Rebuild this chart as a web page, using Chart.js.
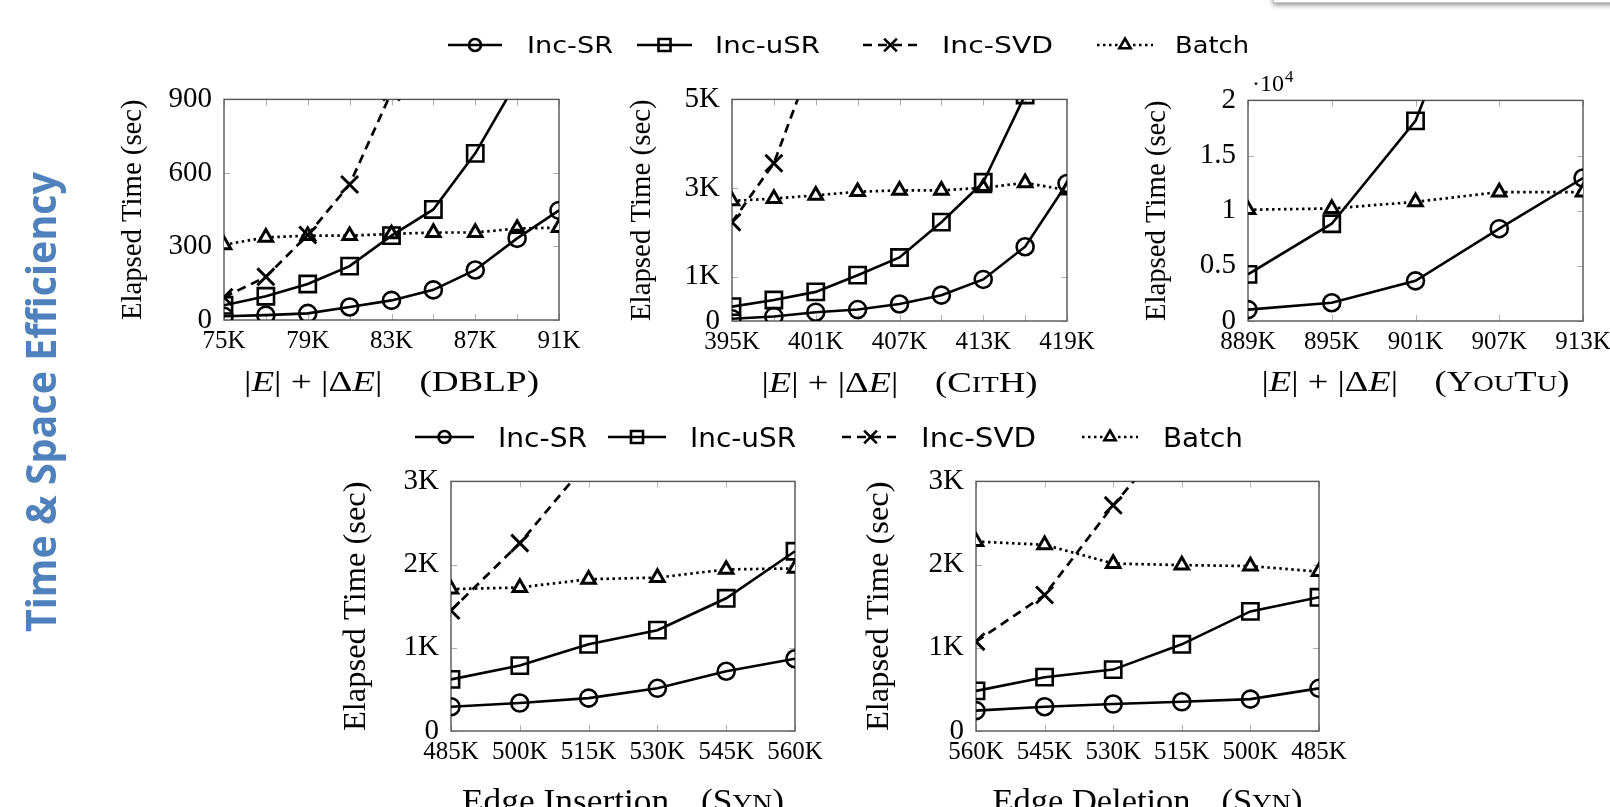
<!DOCTYPE html>
<html>
<head>
<meta charset="utf-8">
<script src="https://cdn.jsdelivr.net/npm/chart.js@4.4.1/dist/chart.umd.min.js"></script>
<style>
html, body { margin: 0; padding: 0; background: #fff; width: 1610px; height: 807px; overflow: hidden; position: relative; }
canvas { position: absolute; }
#topbox { position: absolute; left: 1273px; top: -40px; width: 400px; height: 41px; background: #fff;
          border: 1px solid #c8c8c8; box-shadow: 0 2px 5px rgba(0,0,0,.45); }
</style>
</head>
<body>
<div id="topbox"></div>
<canvas id="overlay" width="1610" height="807" style="left:0;top:0"></canvas>
<script>
const seriesNames = ['Inc-SR', 'Inc-uSR', 'Inc-SVD', 'Batch'];

// DBLP
const dblpX = [75, 77, 79, 81, 83, 85, 87, 89, 91];
const dblpXLabels = [75, 79, 83, 87, 91];
const dblpYTicks = [0, 300, 600, 900];
const dblpIncSR = [15, 20, 27, 53, 80, 123, 204, 333, 447];
const dblpIncUSR = [60, 97, 147, 220, 344, 451, 680, 975, null];
const dblpIncSVD = [93, 176, 347, 553, 930, null, null, null, null];
const dblpBatch = [307, 337, 344, 344, 351, 357, 357, 373, 377];

// CitH
const citX = [395, 398, 401, 404, 407, 410, 413, 416, 419];
const citXLabels = [395, 401, 407, 413, 419];
const citYTicks = [0, 1000, 3000, 5000];
const citIncSR = [52, 103, 199, 258, 384, 583, 938, 1676, 3102];
const citIncUSR = [325, 473, 657, 1034, 1433, 2230, 3131, 5100, null];
const citIncSVD = [2230, 3560, 6100, null, null, null, null, null, null];
const citBatch = [2710, 2762, 2836, 2917, 2947, 2947, 3006, 3117, 2954];

// YouTu
const youX = [889, 895, 901, 907, 913];
const youXLabels = [889, 895, 901, 907, 913];
const youYTicks = [0, 5000, 10000, 15000, 20000];
const youIncSR = [1035, 1657, 3640, 8370, 12960];
const youIncUSR = [4230, 8820, 18140, 37500, null];
const youBatch = [10090, 10200, 10800, 11690, 11690];

// Syn, edge insertion
const insX = [485, 500, 515, 530, 545, 560];
const insXLabels = [485, 500, 515, 530, 545, 560];
const synYTicks = [0, 1000, 2000, 3000];
const insIncSR = [292, 336, 395, 513, 718, 868];
const insIncUSR = [620, 786, 1042, 1212, 1595, 2160];
const insIncSVD = [1449, 2258, 3245, null, null, null];
const insBatch = [1705, 1725, 1824, 1844, 1942, 1954];

// Syn, edge deletion (axis runs 560K -> 485K)
const delX = [560, 545, 530, 515, 500, 485];
const delXLabels = [560, 545, 530, 515, 500, 485];
const delIncSR = [245, 292, 324, 351, 383, 513];
const delIncUSR = [482, 647, 738, 1042, 1437, 1607];
const delIncSVD = [1074, 1634, 2712, 3686, null, null];
const delBatch = [2277, 2238, 2013, 1994, 1982, 1915];

const SERIF = '"Liberation Serif", "Times New Roman", serif';
const SANS = '"DejaVu Sans", sans-serif';
const PAD_L = 5, Y_W = 110, PAD_T = 25, PAD_R = 40, X_H = 95;

const STYLE = {
  'Inc-SR':  { borderColor: '#000', borderWidth: 2.6, pointStyle: 'circle', pointRadius: 8.5,
               pointBorderWidth: 2.6, pointBorderColor: '#000', pointBackgroundColor: 'rgba(0,0,0,0)' },
  'Inc-uSR': { borderColor: '#000', borderWidth: 2.6, pointStyle: 'rect', pointRadius: 11.5,
               pointBorderWidth: 2.6, pointBorderColor: '#000', pointBackgroundColor: 'rgba(0,0,0,0)' },
  'Inc-SVD': { borderColor: '#000', borderWidth: 2.7, borderDash: [9, 6], pointStyle: 'crossRot', pointRadius: 12,
               pointBorderWidth: 2.9, pointBorderColor: '#000', pointBackgroundColor: 'rgba(0,0,0,0)' },
  'Batch':   { borderColor: '#000', borderWidth: 2.7, borderDash: [2.5, 3.5], pointStyle: 'triangle', pointRadius: 7.8,
               pointBorderWidth: 3, pointBorderColor: '#000', pointBackgroundColor: '#fff' }
};

function fontFor(p, size) {
  return (p.it ? 'italic ' : '') + (p.bold ? 'bold ' : '') + ((p.s || 1) * size) + 'px ' + (p.family || SERIF);
}

// draws a run of mixed-font text, squeezed/stretched to a given width
function drawRich(ctx, parts, size, width) {
  let total = 0;
  const m = parts.map(p => {
    const f = fontFor(p, size);
    ctx.font = f;
    const w = p.gap != null ? p.gap * size : ctx.measureText(p.t).width;
    total += w;
    return { f, w, t: p.t };
  });
  ctx.scale(width / total, 1);
  let xx = -total / 2;
  m.forEach(p => {
    if (p.t) { ctx.font = p.f; ctx.fillText(p.t, xx, 0); }
    xx += p.w;
  });
}

function makeDecor(cfg) {
  return {
    id: 'panelDecor',
    beforeDatasetsDraw(chart) {
      const { ctx, chartArea: a, scales: { x, y } } = chart;
      ctx.save();
      ctx.strokeStyle = '#b0b0b0';
      ctx.lineWidth = 1;
      ctx.beginPath();
      x.ticks.forEach(t => {
        const px = Math.round(x.getPixelForValue(t.value)) + 0.5;
        ctx.moveTo(px, a.bottom); ctx.lineTo(px, a.bottom - 6);
        ctx.moveTo(px, a.top); ctx.lineTo(px, a.top + 6);
      });
      y.ticks.forEach(t => {
        const py = Math.round(y.getPixelForValue(t.value)) + 0.5;
        ctx.moveTo(a.left, py); ctx.lineTo(a.left + 6, py);
        ctx.moveTo(a.right, py); ctx.lineTo(a.right - 6, py);
      });
      ctx.stroke();
      ctx.strokeStyle = '#555';
      ctx.lineWidth = 1.4;
      ctx.strokeRect(a.left, a.top, a.right - a.left, a.bottom - a.top);
      ctx.restore();
    },
    afterDraw(chart) {
      const { ctx, chartArea: a } = chart;
      ctx.save();
      ctx.fillStyle = '#000';
      ctx.textAlign = 'left';
      ctx.textBaseline = 'alphabetic';
      // x title
      ctx.save();
      ctx.translate((a.left + a.right) / 2, a.bottom + cfg.xTitleDy);
      drawRich(ctx, cfg.xTitle, cfg.xTitleSize, cfg.xTitleWidth);
      ctx.restore();
      // y title
      ctx.save();
      ctx.textBaseline = 'middle';
      ctx.translate(a.left - cfg.yTitleDx, (a.top + a.bottom) / 2);
      ctx.rotate(-Math.PI / 2);
      drawRich(ctx, [{ t: 'Elapsed Time (sec)' }], cfg.yTitleSize, a.bottom - a.top);
      ctx.restore();
      if (cfg.exponent) {
        ctx.font = '24px ' + SERIF;
        ctx.fillText('·10', a.left + 4, a.top - 9);
        const w = ctx.measureText('·10').width;
        ctx.font = '17px ' + SERIF;
        ctx.fillText(cfg.exponent, a.left + 4 + w + 1, a.top - 18);
      }
      ctx.restore();
    }
  };
}

function makePanel(cfg) {
  const [L, T, R, B] = cfg.rect;
  const canvas = document.createElement('canvas');
  canvas.width = PAD_L + Y_W + (R - L) + PAD_R;
  canvas.height = PAD_T + (B - T) + X_H;
  canvas.style.left = (L - PAD_L - Y_W) + 'px';
  canvas.style.top = (T - PAD_T) + 'px';
  document.body.appendChild(canvas);

  const datasets = cfg.series.map(([name, values]) => ({
    label: name,
    data: cfg.x.map((xv, i) => ({ x: xv, y: values[i] })),
    tension: 0,
    spanGaps: false,
    borderCapStyle: 'butt',
    ...STYLE[name]
  }));

  new Chart(canvas, {
    type: 'line',
    data: { datasets },
    plugins: [makeDecor(cfg)],
    options: {
      responsive: false,
      animation: false,
      events: [],
      layout: { padding: { left: PAD_L, top: PAD_T, right: PAD_R, bottom: 0 } },
      plugins: { legend: { display: false }, tooltip: { enabled: false } },
      scales: {
        x: {
          type: 'linear',
          min: Math.min(...cfg.x),
          max: Math.max(...cfg.x),
          reverse: !!cfg.reverse,
          afterBuildTicks: s => { s.ticks = cfg.x.map(v => ({ value: v })); },
          afterFit: s => { s.height = X_H; },
          grid: { display: false, drawTicks: false },
          border: { display: false },
          ticks: {
            autoSkip: false, maxRotation: 0, minRotation: 0, padding: 6, color: '#000',
            font: { family: SERIF, size: 25 },
            callback: v => cfg.xLabels.includes(v) ? v + 'K' : ''
          }
        },
        y: {
          type: 'linear',
          min: cfg.yTicks[0],
          max: cfg.yTicks[cfg.yTicks.length - 1],
          afterBuildTicks: s => { s.ticks = cfg.yTicks.map(v => ({ value: v })); },
          afterFit: s => { s.width = Y_W; },
          grid: { display: false, drawTicks: false },
          border: { display: false },
          ticks: {
            padding: 12, color: '#000',
            font: { family: SERIF, size: 29 },
            callback: cfg.yLabel
          }
        }
      }
    }
  });
}

const kLabel = v => v === 0 ? '0' : (v / 1000) + 'K';
const sc = 0.78;
const edgeTitle = name => [{ t: '|' }, { t: 'E', it: 1 }, { t: '| + |Δ' }, { t: 'E', it: 1 }, { t: '|' }, { gap: 1 },
                          { t: '(' }, ...name, { t: ')' }];

makePanel({
  rect: [224, 95, 559, 320], x: dblpX, xLabels: dblpXLabels, yTicks: dblpYTicks, yLabel: v => String(v),
  series: [['Inc-SR', dblpIncSR], ['Inc-uSR', dblpIncUSR], ['Inc-SVD', dblpIncSVD], ['Batch', dblpBatch]],
  xTitle: edgeTitle([{ t: 'DBLP' }]), xTitleSize: 30, xTitleWidth: 295, xTitleDy: 71,
  yTitleDx: 91, yTitleSize: 29
});
makePanel({
  rect: [732, 95, 1067, 321], x: citX, xLabels: citXLabels, yTicks: citYTicks, yLabel: kLabel,
  series: [['Inc-SR', citIncSR], ['Inc-uSR', citIncUSR], ['Inc-SVD', citIncSVD], ['Batch', citBatch]],
  xTitle: edgeTitle([{ t: 'C' }, { t: 'IT', s: sc }, { t: 'H' }]), xTitleSize: 30, xTitleWidth: 276, xTitleDy: 71,
  yTitleDx: 90, yTitleSize: 29
});
makePanel({
  rect: [1248, 96, 1583, 321], x: youX, xLabels: youXLabels, yTicks: youYTicks, yLabel: v => String(v / 10000),
  series: [['Inc-SR', youIncSR], ['Inc-uSR', youIncUSR], ['Batch', youBatch]],
  xTitle: edgeTitle([{ t: 'Y' }, { t: 'OU', s: sc }, { t: 'T' }, { t: 'U', s: sc }]), xTitleSize: 30, xTitleWidth: 308, xTitleDy: 70,
  yTitleDx: 91, yTitleSize: 29, exponent: '4'
});
makePanel({
  rect: [451, 477, 795, 731], x: insX, xLabels: insXLabels, yTicks: synYTicks, yLabel: kLabel,
  series: [['Inc-SR', insIncSR], ['Inc-uSR', insIncUSR], ['Inc-SVD', insIncSVD], ['Batch', insBatch]],
  xTitle: [{ t: 'Edge Insertion' }, { gap: 0.9 }, { t: '(' }, { t: 'S' }, { t: 'YN', s: sc }, { t: ')' }],
  xTitleSize: 33, xTitleWidth: 322, xTitleDy: 81, yTitleDx: 94, yTitleSize: 32
});
makePanel({
  rect: [976, 477, 1319, 731], x: delX, xLabels: delXLabels, yTicks: synYTicks, yLabel: kLabel, reverse: true,
  series: [['Inc-SR', delIncSR], ['Inc-uSR', delIncUSR], ['Inc-SVD', delIncSVD], ['Batch', delBatch]],
  xTitle: [{ t: 'Edge Deletion' }, { gap: 0.9 }, { t: '(' }, { t: 'S' }, { t: 'YN', s: sc }, { t: ')' }],
  xTitleSize: 33, xTitleWidth: 310, xTitleDy: 81, yTitleDx: 96, yTitleSize: 32
});

// legends and side title
const ov = document.getElementById('overlay').getContext('2d');
const legendRows = [
  { y: 45, base: 53, size: 23, items: [[448, 502, 527, 86], [637, 692, 715, 105], [863, 918, 942, 111], [1097, 1153, 1175, 74]] },
  { y: 437, base: 447, size: 27, items: [[415, 474, 498, 89], [608, 666, 690, 106], [842, 899, 921, 115], [1082, 1138, 1163, 80]] }
];
const legendMarker = { 'Inc-SR': 6, 'Inc-uSR': 8.5, 'Inc-SVD': 9, 'Batch': 6.5 };

function drawMarker(ctx, st, r, x, y) {
  ctx.save();
  ctx.strokeStyle = '#000';
  ctx.fillStyle = st.pointBackgroundColor;
  ctx.lineWidth = 2.6;
  if (Chart.helpers && Chart.helpers.drawPoint) {
    Chart.helpers.drawPoint(ctx, { pointStyle: st.pointStyle, radius: r, borderWidth: 2.6, rotation: 0 }, x, y);
  } else {
    ctx.beginPath(); ctx.arc(x, y, r, 0, Math.PI * 2); ctx.stroke();
  }
  ctx.restore();
}

legendRows.forEach(row => {
  row.items.forEach(([x1, x2, tx, tw], i) => {
    const name = seriesNames[i];
    const st = STYLE[name];
    ov.save();
    ov.strokeStyle = '#000';
    ov.lineWidth = 2.6;
    ov.setLineDash(st.borderDash || []);
    ov.beginPath(); ov.moveTo(x1, row.y); ov.lineTo(x2, row.y); ov.stroke();
    ov.restore();
    drawMarker(ov, st, legendMarker[name], (x1 + x2) / 2, row.y);
    ov.save();
    ov.fillStyle = '#000';
    ov.textBaseline = 'alphabetic';
    ov.translate(tx + tw / 2, row.base);
    drawRich(ov, [{ t: name, family: SANS }], row.size, tw);
    ov.restore();
  });
});

ov.save();
ov.fillStyle = '#4f81bd';
ov.textBaseline = 'alphabetic';
ov.translate(56, 402);
ov.rotate(-Math.PI / 2);
drawRich(ov, [{ t: 'Time & Space Efficiency', family: '"Open Sans", sans-serif', bold: 1 }], 42, 460);
ov.restore();
</script>
</body>
</html>
